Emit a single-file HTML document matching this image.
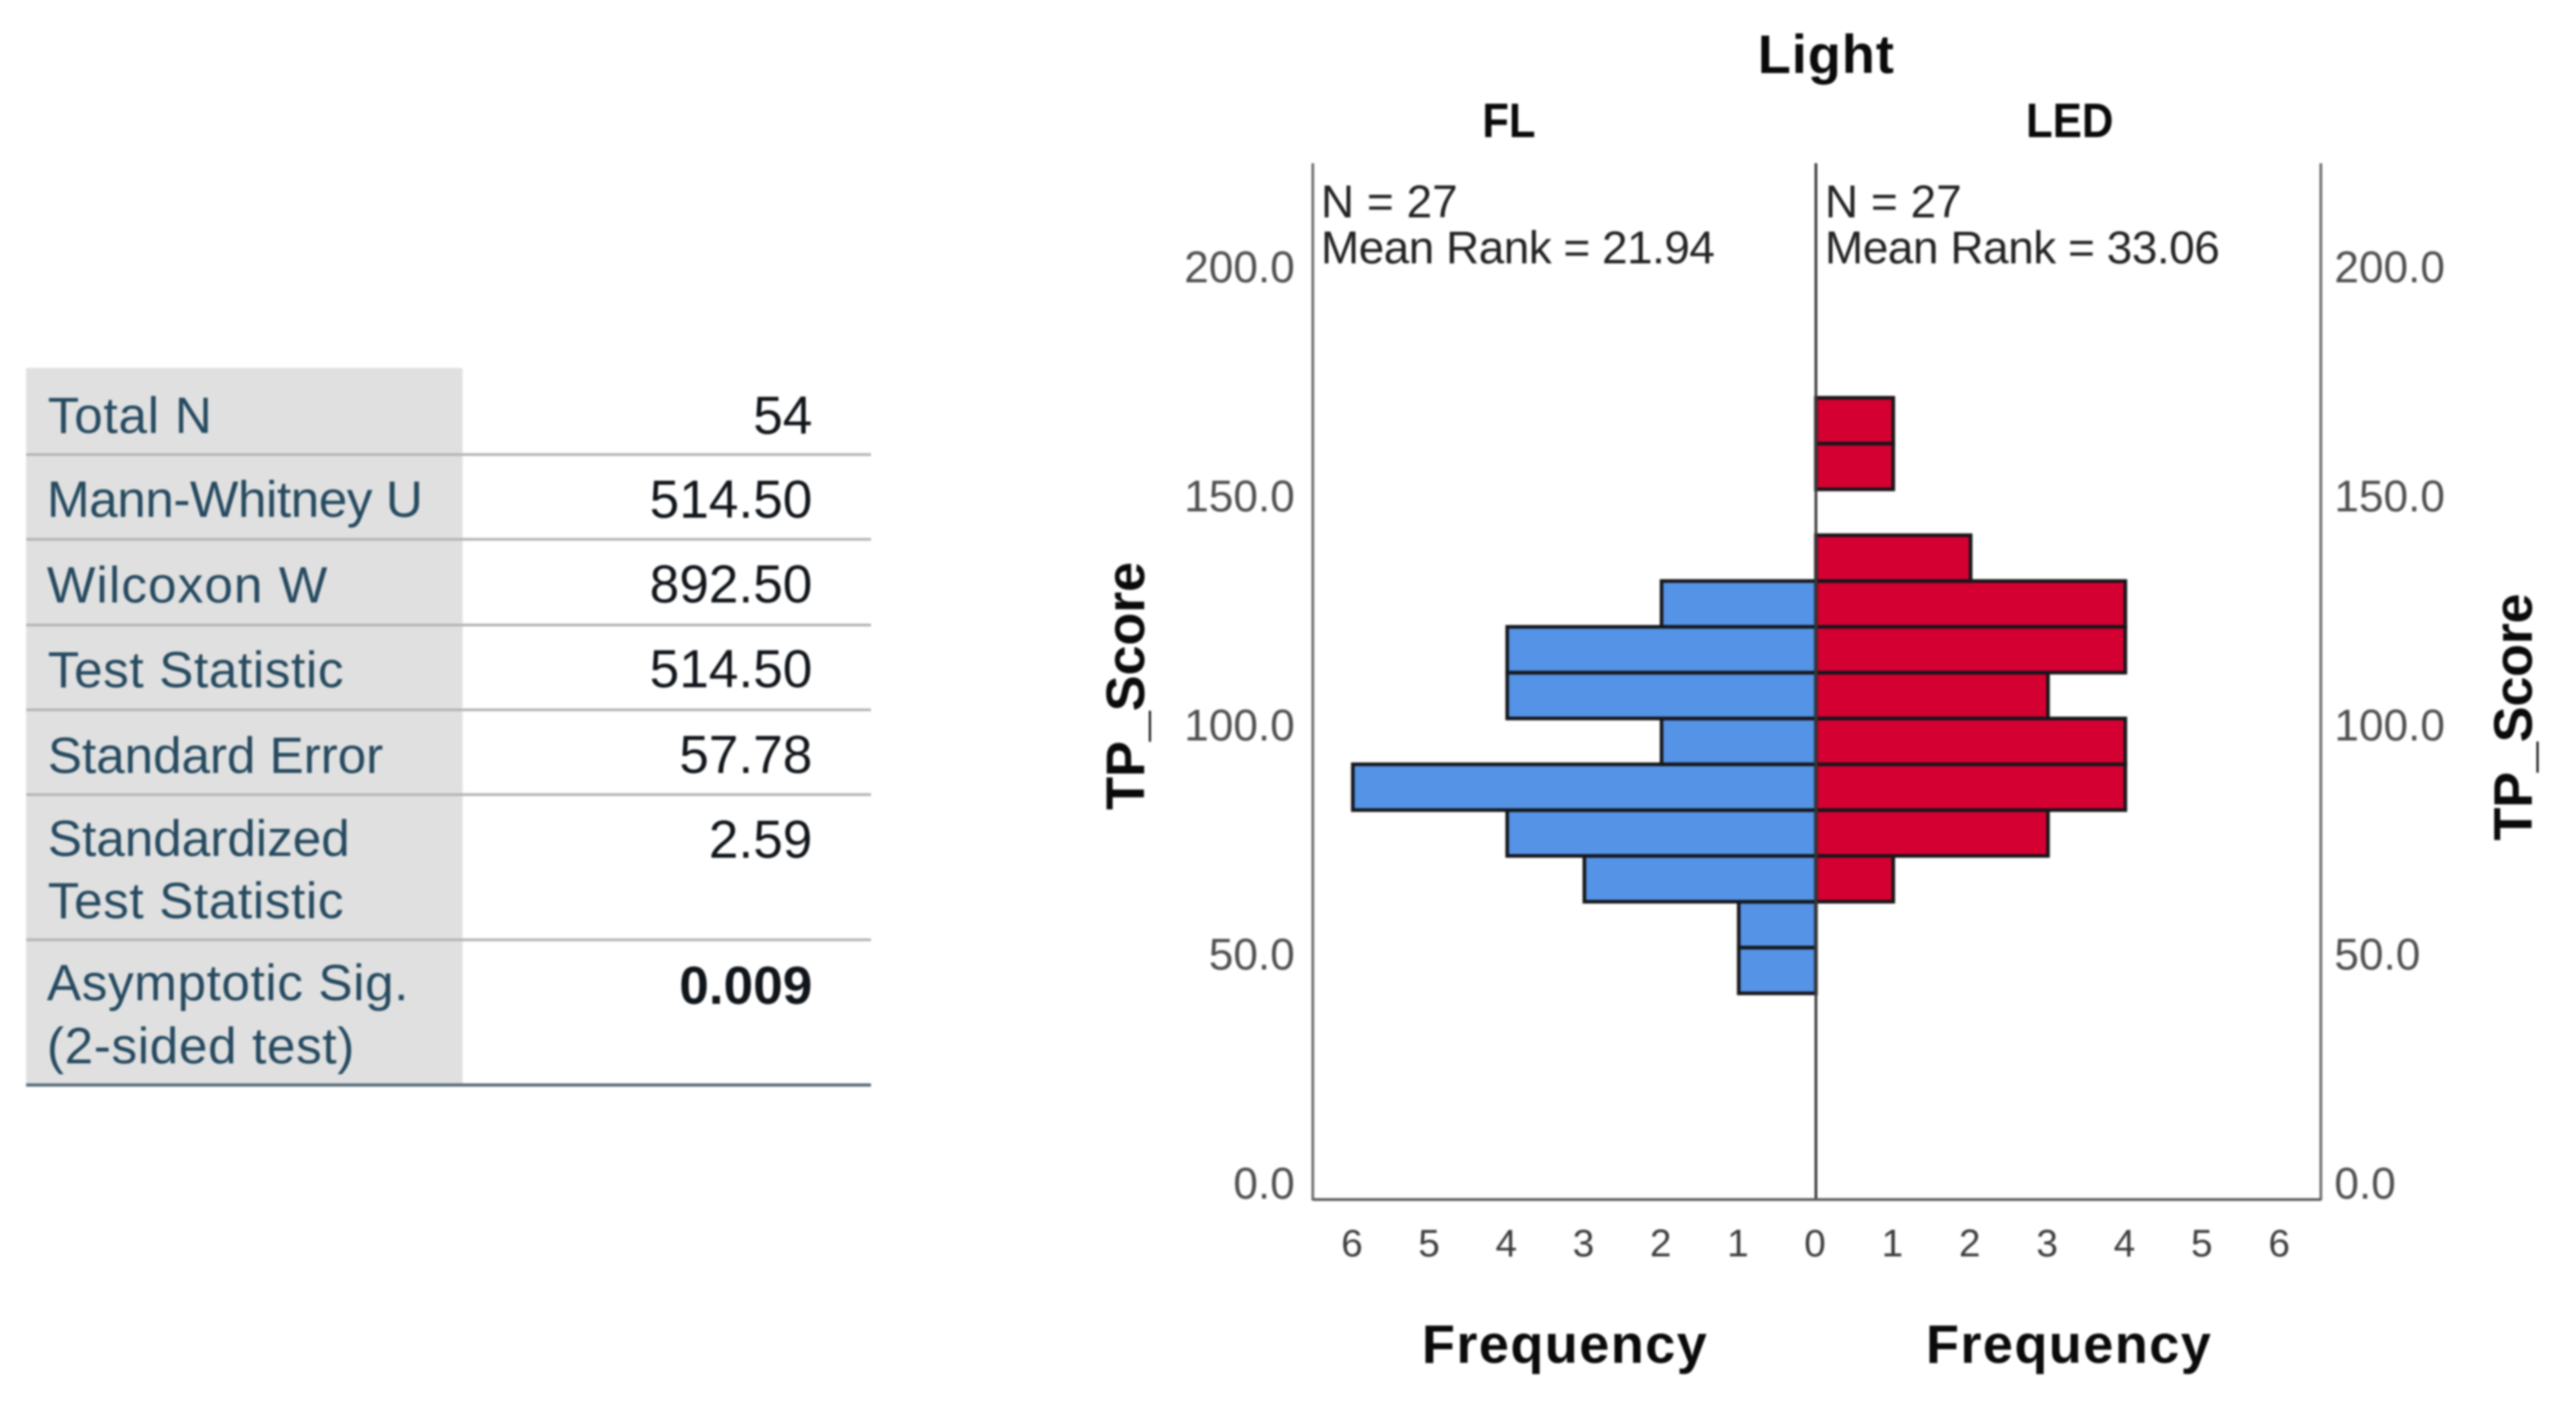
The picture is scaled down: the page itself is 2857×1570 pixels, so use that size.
<!DOCTYPE html>
<html lang="en">
<head>
<meta charset="utf-8">
<title>Mann-Whitney U test summary and population pyramid</title>
<style>
html,body{margin:0;padding:0;background:#fff;width:2857px;height:1570px;overflow:hidden}
svg{display:block;position:absolute;left:0;top:0;filter:blur(1.1px)}
text{font-family:"Liberation Sans",Arial,sans-serif}
.lbl{font-size:57px;fill:#264a60}
.val{font-size:59px;fill:#10151a;text-anchor:end}
.ytick{font-size:49px;fill:#4f4f4f}
.xtick{font-size:43px;fill:#3c3c3c;text-anchor:middle}
.stat{font-size:51px;fill:#222}
.bold{font-weight:bold;fill:#0a0a0a}
</style>
</head>
<body>
<svg id="root" xmlns="http://www.w3.org/2000/svg" width="2857" height="1570" viewBox="0 0 2857 1570">
  <g>
    <rect x="29" y="408" width="484" height="795" fill="#e0e0e0"/>
    <g stroke="#b4b4b4" stroke-width="3">
      <line x1="29" x2="966" y1="504" y2="504"/>
      <line x1="29" x2="966" y1="598" y2="598"/>
      <line x1="29" x2="966" y1="693" y2="693"/>
      <line x1="29" x2="966" y1="787" y2="787"/>
      <line x1="29" x2="966" y1="881" y2="881"/>
      <line x1="29" x2="966" y1="1042" y2="1042"/>
    </g>
    <line x1="29" x2="966" y1="1203" y2="1203" stroke="#566b78" stroke-width="3.5"/>
    <text class="lbl" x="53" y="480" textLength="182">Total N</text>
    <text class="val" x="901" y="481">54</text>
    <text class="lbl" x="52" y="573" textLength="417">Mann-Whitney U</text>
    <text class="val" x="901" y="574">514.50</text>
    <text class="lbl" x="52" y="668" textLength="311">Wilcoxon W</text>
    <text class="val" x="901" y="668">892.50</text>
    <text class="lbl" x="53" y="762" textLength="328">Test Statistic</text>
    <text class="val" x="901" y="762">514.50</text>
    <text class="lbl" x="53" y="857" textLength="372">Standard Error</text>
    <text class="val" x="901" y="857">57.78</text>
    <text class="lbl" x="53" y="949" textLength="335">Standardized</text>
    <text class="lbl" x="53" y="1018" textLength="328">Test Statistic</text>
    <text class="val" x="901" y="951">2.59</text>
    <text class="lbl" x="52" y="1109" textLength="401">Asymptotic Sig.</text>
    <text class="lbl" x="52" y="1179" textLength="341">(2-sided test)</text>
    <text class="val" x="901" y="1113" font-weight="bold">0.009</text>
  </g>
  <g id="chart">
    <text class="bold" x="2025" y="81" font-size="60" text-anchor="middle" textLength="151">Light</text>
    <text class="bold" x="1644" y="152" font-size="54" textLength="59" lengthAdjust="spacingAndGlyphs">FL</text>
    <text class="bold" x="2247" y="152" font-size="54" textLength="97" lengthAdjust="spacingAndGlyphs">LED</text>
    <text class="stat" x="1465" y="241">N = 27</text>
    <text class="stat" x="1465" y="292" textLength="437">Mean Rank = 21.94</text>
    <text class="stat" x="2024" y="241">N = 27</text>
    <text class="stat" x="2024" y="292" textLength="438">Mean Rank = 33.06</text>
    <text class="bold" font-size="60" transform="translate(1269 898) rotate(-90)" textLength="275">TP_Score</text>
    <text class="bold" font-size="60" transform="translate(2808 932) rotate(-90)" textLength="274">TP_Score</text>
    <text class="bold" x="1577" y="1511" font-size="60" textLength="316">Frequency</text>
    <text class="bold" x="2136" y="1511" font-size="60" textLength="316">Frequency</text>
  </g>
</svg>
<script>
const binStarts = [45, 55, 65, 75, 85, 95, 105, 115, 125, 135, 145, 155, 165];
const binWidth = 10;
const flCounts = [1, 1, 3, 4, 6, 2, 4, 4, 2, 0, 0, 0, 0];
const ledCounts = [0, 0, 1, 3, 4, 4, 3, 4, 4, 2, 0, 1, 1];
const yTickValues = [0, 50, 100, 150, 200];
const yTickLabels = ["0.0", "50.0", "100.0", "150.0", "200.0"];
const xTickValues = [0, 1, 2, 3, 4, 5, 6];

const NS = "http://www.w3.org/2000/svg";
const chart = document.getElementById("chart");
const AXIS = {left: 1456, center: 2014, right: 2574, top: 181, bottom: 1330};
const yScale = v => AXIS.bottom - v * 5.08;
const flX = c => AXIS.center - c * 85.6;
const ledX = c => AXIS.center + c * 85.8;

function make(tag, attrs, text) {
  const el = document.createElementNS(NS, tag);
  for (const k in attrs) el.setAttribute(k, attrs[k]);
  if (text !== undefined) el.textContent = text;
  chart.appendChild(el);
  return el;
}

function drawBar(x1, x2, start, fill, name) {
  const yTop = yScale(start + binWidth), yBottom = yScale(start);
  const el = make("rect", {
    x: Math.min(x1, x2), y: yTop,
    width: Math.abs(x2 - x1), height: yBottom - yTop,
    fill: fill, stroke: "#16161a", "stroke-width": 4
  });
  
  
}

binStarts.forEach((start, i) => {
  if (flCounts[i] > 0) drawBar(flX(flCounts[i]), flX(0), start, "#5493e5", "fl-bar-" + start);
  if (ledCounts[i] > 0) drawBar(ledX(0), ledX(ledCounts[i]), start, "#d50032", "led-bar-" + start);
});

function drawAxisLine(x1, y1, x2, y2, name, color) {
  const el = make("line", {x1: x1, y1: y1, x2: x2, y2: y2, stroke: color, "stroke-width": 3});
  
  
}
drawAxisLine(AXIS.left, AXIS.top, AXIS.left, AXIS.bottom + 1, "left-y-axis-line", "#6e6e6e");
drawAxisLine(AXIS.center, AXIS.top, AXIS.center, AXIS.bottom + 1, "center-axis-line", "#3a3a3a");
drawAxisLine(AXIS.right, AXIS.top, AXIS.right, AXIS.bottom + 1, "right-y-axis-line", "#6e6e6e");
drawAxisLine(AXIS.left, AXIS.bottom, AXIS.right, AXIS.bottom, "x-axis-line", "#5a5a5a");

yTickValues.forEach((v, i) => {
  const left = make("text", {class: "ytick", x: AXIS.left - 20, y: yScale(v) - 1, "text-anchor": "end"}, yTickLabels[i]);
  
  
  const right = make("text", {class: "ytick", x: AXIS.right + 15, y: yScale(v) - 1}, yTickLabels[i]);
  
  
});

xTickValues.forEach(v => {
  if (v > 0) {
    const l = make("text", {class: "xtick", x: flX(v) - 1, y: 1393}, String(v));
    
    
  }
  const r = make("text", {class: "xtick", x: ledX(v) - 1, y: 1393}, String(v));
  
  
});
</script>
</body>
</html>
